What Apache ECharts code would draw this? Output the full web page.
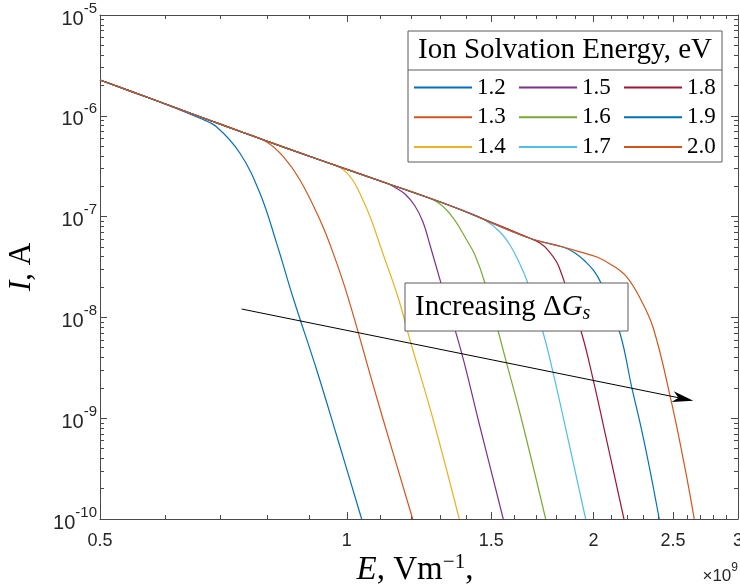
<!DOCTYPE html>
<html><head><meta charset="utf-8">
<script src="https://cdn.jsdelivr.net/npm/echarts@6/dist/echarts.min.js"></script>
<style>html,body{margin:0;padding:0;background:#fff}#c{width:740px;height:586px}</style>
</head><body><div id="c"></div>
<script>
// ---------------- data (E in 10^9 V/m, I in A) ----------------
const seriesNames = ['1.2','1.3','1.4','1.5','1.6','1.7','1.8','1.9','2.0'];
const colors = ['#0072BD','#D95319','#EDB120','#7E2F8E','#77AC30','#4DBEEE','#A2142F','#0072BD','#D95319'];

// common upper envelope followed by all curves before they drop
const envE = [0.5, 0.5754, 0.6621, 0.7619, 0.9275, 1.1186, 1.3474, 1.6726, 1.835, 1.9247, 2.0188];
const envI = [2.265e-6, 1.492e-6, 9.79e-7, 6.45e-7, 3.64e-7, 2.14e-7, 1.254e-7, 6.09e-8, 4.99e-8, 4.46e-8, 3.97e-8];

// individual drop-off branches
const E12 = [0.6621, 0.6939, 0.7408, 0.7836, 0.8212, 0.8604, 0.9189, 0.9755, 1.0426];
const I12 = [9.44e-7, 7.74e-7, 4.25e-7, 1.702e-7, 5.43e-8, 1.547e-8, 3.01e-9, 6.08e-10, 1e-10];
const E13 = [0.7408, 0.7985, 0.8367, 0.8768, 0.9275, 0.9627, 1.0042, 1.0724, 1.1079, 1.2032];
const I13 = [7.02e-7, 5.50e-7, 3.93e-7, 2.31e-7, 9.25e-8, 4.32e-8, 1.547e-8, 2.39e-9, 9.60e-10, 1e-10];
const E14 = [0.9810, 1.0146, 1.0435, 1.0702, 1.1029, 1.1555, 1.1941, 1.2749, 1.3714];
const I14 = [3.07e-7, 2.36e-7, 1.529e-7, 9.47e-8, 4.66e-8, 1.558e-8, 5.97e-9, 9.60e-10, 1e-10];
const E15 = [1.1394, 1.1774, 1.2110, 1.2385, 1.2631, 1.3027, 1.3807, 1.4466, 1.5518];
const I15 = [1.989e-7, 1.676e-7, 1.274e-7, 8.84e-8, 5.23e-8, 2.19e-8, 4.43e-9, 9.60e-10, 1e-10];
const E16 = [1.2455, 1.2990, 1.3485, 1.4002, 1.4332, 1.4741, 1.5667, 1.6341, 1.7480];
const I16 = [1.583e-7, 1.334e-7, 9.68e-8, 5.86e-8, 4.16e-8, 2.18e-8, 3.50e-9, 9.60e-10, 1e-10];
const E17 = [1.3935, 1.4741, 1.5375, 1.5813, 1.6172, 1.6572, 1.7363, 1.7857, 1.8453, 1.9558];
const I17 = [1.136e-7, 9.25e-8, 7.03e-8, 5.23e-8, 3.71e-8, 2.35e-8, 6.96e-9, 2.79e-9, 8.56e-10, 1e-10];
const E18 = [1.7202, 1.7593, 1.8028, 1.8299, 1.8557, 1.9339, 1.9980, 2.0590, 2.1779];
const I18 = [5.47e-8, 4.66e-8, 3.54e-8, 2.63e-8, 1.87e-8, 6.96e-9, 2.39e-9, 7.99e-10, 1e-10];
const E19 = [1.8980, 1.9575, 2.0020, 2.0417, 2.1537, 2.2254, 2.2888, 2.3428, 2.4048];
const I19 = [4.36e-8, 3.54e-8, 2.89e-8, 2.19e-8, 6.96e-9, 2.05e-9, 7.63e-10, 3.06e-10, 1e-10];
const E20 = [2.1135, 2.1945, 2.2779, 2.3647, 2.4852, 2.5848, 2.6532];
const I20 = [3.24e-8, 2.52e-8, 1.558e-8, 7.85e-9, 1.516e-9, 3.21e-10, 1e-10];

// ticks
const xTicks = [0.5, 1, 1.5, 2, 2.5, 3];
const xMinorTicks = [0.6,0.7,0.8,0.9,1.1,1.2,1.3,1.4,1.6,1.7,1.8,1.9,2.1,2.2,2.3,2.4,2.6,2.7,2.8,2.9];
const yTicks = [1e-10, 1e-9, 1e-8, 1e-7, 1e-6, 1e-5];
const yMinorTicks = [2e-10,3e-10,4e-10,5e-10,6e-10,7e-10,8e-10,9e-10,
  2e-9,3e-9,4e-9,5e-9,6e-9,7e-9,8e-9,9e-9,
  2e-8,3e-8,4e-8,5e-8,6e-8,7e-8,8e-8,9e-8,
  2e-7,3e-7,4e-7,5e-7,6e-7,7e-7,8e-7,9e-7,
  2e-6,3e-6,4e-6,5e-6,6e-6,7e-6,8e-6,9e-6];

// annotation arrow (data coordinates)
const arrowFrom = [0.7443, 1.211e-8];
const arrowTo = [2.6458, 1.491e-9];

// ---------------- chart ----------------
const branches = [[E12,I12],[E13,I13],[E14,I14],[E15,I15],[E16,I16],[E17,I17],[E18,I18],[E19,I19],[E20,I20]];
const AX = '#4a4a4a', TXT = '#262626';
const SANS = 'Liberation Sans, Arial, sans-serif';
const SERIF = 'Liberation Serif, Times New Roman, serif';

const series = branches.map(function (b, k) {
  const E = b[0], I = b[1];
  const env = envE.map(function (e, i) { return [e, envI[i]]; }).filter(function (p) { return p[0] < E[0]; });
  const own = E.map(function (e, i) { return [e, I[i]]; });
  return {
    type: 'line', name: seriesNames[k], xAxisIndex: 0, yAxisIndex: 0,
    data: env.concat(own), symbol: 'none', showSymbol: false,
    smooth: 0.4, clip: true,
    lineStyle: { width: 1.2, color: colors[k], join: 'round' }, itemStyle: { color: colors[k] },
    emphasis: { disabled: true }, z: 2
  };
});

const xCommon = { type: 'log', logBase: 10, min: 0.5, max: 3, gridIndex: 0, splitLine: { show: false },
  axisLine: { show: true, onZero: false, lineStyle: { color: AX, width: 1 } }, nameMoveOverlap: false };
const yCommon = { type: 'log', logBase: 10, min: 1e-10, max: 1e-5, gridIndex: 0, splitLine: { show: false },
  axisLine: { show: true, onZero: false, lineStyle: { color: AX, width: 1 } }, nameMoveOverlap: false };

const option = {
  animation: false,
  backgroundColor: '#fff',
  grid: { left: 100, right: 2, top: 15, bottom: 67, containLabel: false, outerBoundsMode: 'none' },
  xAxis: [
    Object.assign({}, xCommon, { position: 'bottom',
      axisTick: { show: true, inside: true, length: 7, customValues: xTicks, lineStyle: { color: AX } },
      axisLabel: { show: true, customValues: xTicks, margin: 13, color: TXT, fontFamily: SANS, fontSize: 18,
        formatter: function (v) { return String(+v.toFixed(1)); } },
      name: '{i|E}, Vm{s|\u22121},', nameLocation: 'middle', nameGap: 33,
      nameTextStyle: { fontFamily: SERIF, fontSize: 33, color: '#000', lineHeight: 36, padding: [0, 8, 0, 0],
        rich: { i: { fontFamily: SERIF, fontStyle: 'italic', fontSize: 33, lineHeight: 36 },
                s: { fontFamily: SERIF, fontSize: 21, lineHeight: 21, verticalAlign: 'top' } } } }),
    Object.assign({}, xCommon, { position: 'bottom', axisLine: { show: false },
      axisTick: { show: true, inside: true, length: 4, customValues: xMinorTicks, lineStyle: { color: AX } },
      axisLabel: { show: false } }),
    Object.assign({}, xCommon, { position: 'top',
      axisTick: { show: true, inside: true, length: 7, customValues: xTicks, lineStyle: { color: AX } },
      axisLabel: { show: false } }),
    Object.assign({}, xCommon, { position: 'top', axisLine: { show: false },
      axisTick: { show: true, inside: true, length: 4, customValues: xMinorTicks, lineStyle: { color: AX } },
      axisLabel: { show: false } })
  ],
  yAxis: [
    Object.assign({}, yCommon, { position: 'left',
      axisTick: { show: true, inside: true, length: 7, customValues: yTicks, lineStyle: { color: AX } },
      axisLabel: { show: true, customValues: yTicks, margin: 3, padding: [8, 0, 0, 0],
        formatter: function (v) { return '{b|10}{s|' + Math.round(Math.log10(v)) + '}'; },
        rich: { b: { fontFamily: SANS, fontSize: 20, color: TXT, lineHeight: 36 },
                s: { fontFamily: SANS, fontSize: 15, color: TXT, lineHeight: 13, verticalAlign: 'top' } } },
      name: '{i|I}, A', nameLocation: 'middle', nameGap: 61,
      nameTextStyle: { fontFamily: SERIF, fontSize: 31, color: '#000', lineHeight: 34,
        rich: { i: { fontFamily: SERIF, fontStyle: 'italic', fontSize: 31, lineHeight: 34 } } } }),
    Object.assign({}, yCommon, { position: 'left', axisLine: { show: false },
      axisTick: { show: true, inside: true, length: 4, customValues: yMinorTicks, lineStyle: { color: AX } },
      axisLabel: { show: false } }),
    Object.assign({}, yCommon, { position: 'right',
      axisTick: { show: true, inside: true, length: 7, customValues: yTicks, lineStyle: { color: AX } },
      axisLabel: { show: false } }),
    Object.assign({}, yCommon, { position: 'right', axisLine: { show: false },
      axisTick: { show: true, inside: true, length: 4, customValues: yMinorTicks, lineStyle: { color: AX } },
      axisLabel: { show: false } })
  ],
  legend: [0, 1, 2].map(function (c) {
    return {
      data: seriesNames.slice(c * 3, c * 3 + 3), orient: 'vertical',
      left: [414, 519, 624][c], top: 76, padding: 0,
      itemWidth: 58, itemHeight: 2, icon: 'rect', itemGap: 6.7,
      textStyle: { fontFamily: SERIF, fontSize: 23, color: '#000', lineHeight: 22 },
      selectedMode: false, z: 20
    };
  }),
  series: series
};

const chart = echarts.init(document.getElementById('c'), null, { renderer: 'canvas' });
chart.setOption(option);

// annotations
const p0 = chart.convertToPixel({ xAxisIndex: 0, yAxisIndex: 0 }, arrowFrom);
const p1 = chart.convertToPixel({ xAxisIndex: 0, yAxisIndex: 0 }, arrowTo);
const dx = p1[0] - p0[0], dy = p1[1] - p0[1], len = Math.sqrt(dx * dx + dy * dy);
const ux = dx / len, uy = dy / len, nx = -uy, ny = ux;
const HL = 21, HW = 5.5;
const notch = [p1[0] - 0.72 * HL * ux, p1[1] - 0.72 * HL * uy];
const head = [
  [p1[0], p1[1]],
  [p1[0] - HL * ux + HW * nx, p1[1] - HL * uy + HW * ny],
  notch,
  [p1[0] - HL * ux - HW * nx, p1[1] - HL * uy - HW * ny]
];

chart.setOption({
  graphic: [
    // legend frame
    { type: 'rect', z: 10, shape: { x: 408, y: 31, width: 314, height: 131 },
      style: { fill: '#fff', stroke: '#5a5a5a', lineWidth: 1 } },
    { type: 'line', z: 11, shape: { x1: 408, y1: 70, x2: 722, y2: 70 },
      style: { stroke: '#5a5a5a', lineWidth: 1 } },
    { type: 'text', z: 11, style: { x: 565, y: 50, text: 'Ion Solvation Energy, eV', align: 'center',
      verticalAlign: 'middle', fontFamily: SERIF, fontSize: 29, fill: '#000' } },
    // arrow
    { type: 'line', z: 9, shape: { x1: p0[0], y1: p0[1], x2: notch[0], y2: notch[1] },
      style: { stroke: '#000', lineWidth: 1 } },
    { type: 'polygon', z: 9, shape: { points: head }, style: { fill: '#000' } },
    // text box
    { type: 'rect', z: 10, shape: { x: 405, y: 283, width: 223, height: 48 },
      style: { fill: '#fff', stroke: '#5a5a5a', lineWidth: 1 } },
    { type: 'text', z: 11, style: { x: 415, y: 307, text: 'Increasing \u0394{g|G}{s|s}', align: 'left',
      verticalAlign: 'middle', fontFamily: SERIF, fontSize: 29, fill: '#000', lineHeight: 34,
      rich: { g: { fontFamily: SERIF, fontStyle: 'italic', fontSize: 29, fill: '#000', lineHeight: 34 },
              s: { fontFamily: SERIF, fontStyle: 'italic', fontSize: 20, fill: '#000', lineHeight: 20, verticalAlign: 'bottom' } } } },
    // x exponent
    { type: 'text', z: 11, style: { x: 738, y: 576, text: '\u00d710{s|9}', align: 'right', verticalAlign: 'middle',
      fontFamily: SANS, fontSize: 17, fill: TXT, lineHeight: 28,
      rich: { s: { fontFamily: SANS, fontSize: 12, fill: TXT, lineHeight: 12, verticalAlign: 'top' } } } }
  ]
});
</script>
</body></html>
